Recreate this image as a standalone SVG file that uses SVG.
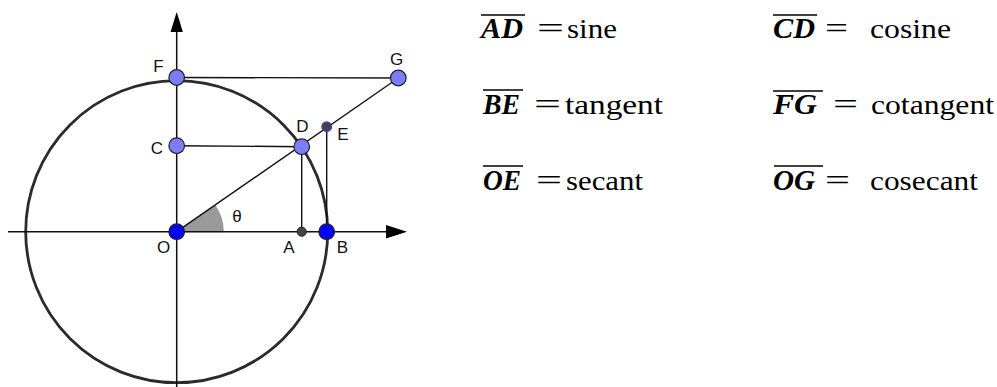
<svg xmlns="http://www.w3.org/2000/svg" width="997" height="387" viewBox="0 0 997 387">
  <defs>
    <style>
      .ln { stroke: #111; stroke-width: 1.4; fill: none; }
      .ax { stroke: #111; stroke-width: 1.5; fill: none; }
      .circ { stroke: #2b2b2b; stroke-width: 2.8; fill: none; }
      .pl { fill: #7c7cff; stroke: #222; stroke-width: 1.2; }
      .pb { fill: #0000ff; stroke: #222; stroke-width: 1.2; }
      .pd { fill: #444; stroke: #222; stroke-width: 1; }
      .lbl { font-family: "Liberation Sans", Arial, sans-serif; font-size: 17px; fill: #111; text-anchor: middle; }
      .mv { font-family: "Liberation Serif", "Times New Roman", serif; font-size: 29px; font-weight: bold; font-style: italic; fill: #000; }
      .tx { font-family: "Liberation Serif", "Times New Roman", serif; font-size: 28px; fill: #000; }
      .eq { font-family: "Liberation Serif", "Times New Roman", serif; font-size: 30px; fill: #000; }
      .ov { stroke: #000; stroke-width: 1.6; }
    </style>
  </defs>
  <rect width="997" height="387" fill="#fff"/>

  <!-- angle wedge -->
  <g id="angle">
    <path d="M176.7,231.7 L223.3,231.7 A46.6,46.6 0 0 0 215.0,205.2 Z" fill="#9a9a9a" stroke="#777" stroke-width="0.6"/>
    <text class="lbl" x="237" y="222">θ</text>
  </g>

  <!-- circle -->
  <g id="unit-circle">
    <circle class="circ" cx="176.7" cy="231.7" r="151"/>
  </g>

  <!-- connectors -->
  <g id="connectors">
    <line class="ax" x1="8" y1="231.7" x2="388" y2="231.7"/>
    <polygon points="407,231.7 386,225 386,238.4" fill="#000"/>
    <line class="ax" x1="176.7" y1="387" x2="176.7" y2="30"/>
    <polygon points="176.7,12 170.5,32 182.9,32" fill="#000"/>
    <line class="ln" x1="176.7" y1="77.5" x2="398.3" y2="78"/>
    <line class="ln" x1="176.7" y1="145.7" x2="301.7" y2="146.7"/>
    <line class="ln" x1="176.7" y1="231.7" x2="398.3" y2="78"/>
    <line class="ln" x1="301.7" y1="146.7" x2="301.7" y2="231.7"/>
    <line class="ln" x1="326.7" y1="126.7" x2="326.7" y2="231.7"/>
  </g>

  <!-- points -->
  <g id="node-O"><circle class="pb" cx="176.7" cy="231.7" r="7.8"/><text class="lbl" x="163.5" y="253">O</text></g>
  <g id="node-A"><circle class="pd" cx="301.7" cy="231.7" r="4.6"/><text class="lbl" x="289" y="253">A</text></g>
  <g id="node-B"><circle class="pb" cx="326.7" cy="231.7" r="7.8"/><text class="lbl" x="342.5" y="253">B</text></g>
  <g id="node-C"><circle class="pl" cx="176.7" cy="145.7" r="7.8"/><text class="lbl" x="157" y="154">C</text></g>
  <g id="node-D"><circle class="pl" cx="301.7" cy="146.7" r="7.8"/><text class="lbl" x="302.5" y="132">D</text></g>
  <g id="node-E"><circle cx="326.7" cy="126.7" r="4.8" fill="#444" stroke="#3a3acc" stroke-width="1.2"/><text class="lbl" x="343" y="140">E</text></g>
  <g id="node-F"><circle class="pl" cx="176.7" cy="77.5" r="7.8"/><text class="lbl" x="158.5" y="72">F</text></g>
  <g id="node-G"><circle class="pl" cx="398.3" cy="78" r="7.8"/><text class="lbl" x="396.5" y="65">G</text></g>

  <!-- legend -->
  <g id="legend-AD">
    <line class="ov" x1="481" y1="15" x2="525" y2="15"/>
    <text class="mv" x="481" y="38" textLength="42" lengthAdjust="spacingAndGlyphs">AD</text>
    <text class="eq" x="537" y="38" textLength="27" lengthAdjust="spacingAndGlyphs">=</text>
    <text class="tx" x="567" y="38" textLength="50" lengthAdjust="spacingAndGlyphs">sine</text>
  </g>
  <g id="legend-BE">
    <line class="ov" x1="483" y1="90" x2="523" y2="90"/>
    <text class="mv" x="483" y="114" textLength="37" lengthAdjust="spacingAndGlyphs">BE</text>
    <text class="eq" x="534" y="114" textLength="27" lengthAdjust="spacingAndGlyphs">=</text>
    <text class="tx" x="565" y="114" textLength="98" lengthAdjust="spacingAndGlyphs">tangent</text>
  </g>
  <g id="legend-OE">
    <line class="ov" x1="483" y1="166" x2="523" y2="166"/>
    <text class="mv" x="483" y="190" textLength="38" lengthAdjust="spacingAndGlyphs">OE</text>
    <text class="eq" x="536" y="190" textLength="26" lengthAdjust="spacingAndGlyphs">=</text>
    <text class="tx" x="566" y="190" textLength="77" lengthAdjust="spacingAndGlyphs">secant</text>
  </g>
  <g id="legend-CD">
    <line class="ov" x1="773" y1="15" x2="817" y2="15"/>
    <text class="mv" x="773" y="38" textLength="42" lengthAdjust="spacingAndGlyphs">CD</text>
    <text class="eq" x="825" y="38" textLength="23" lengthAdjust="spacingAndGlyphs">=</text>
    <text class="tx" x="870" y="38" textLength="81" lengthAdjust="spacingAndGlyphs">cosine</text>
  </g>
  <g id="legend-FG">
    <line class="ov" x1="773" y1="91" x2="823" y2="91"/>
    <text class="mv" x="773" y="114" textLength="44" lengthAdjust="spacingAndGlyphs">FG</text>
    <text class="eq" x="833" y="114" textLength="25" lengthAdjust="spacingAndGlyphs">=</text>
    <text class="tx" x="871" y="114" textLength="123" lengthAdjust="spacingAndGlyphs">cotangent</text>
  </g>
  <g id="legend-OG">
    <line class="ov" x1="774" y1="166" x2="823" y2="166"/>
    <text class="mv" x="773" y="190" textLength="42" lengthAdjust="spacingAndGlyphs">OG</text>
    <text class="eq" x="825" y="190" textLength="25" lengthAdjust="spacingAndGlyphs">=</text>
    <text class="tx" x="870" y="190" textLength="108" lengthAdjust="spacingAndGlyphs">cosecant</text>
  </g>
</svg>
